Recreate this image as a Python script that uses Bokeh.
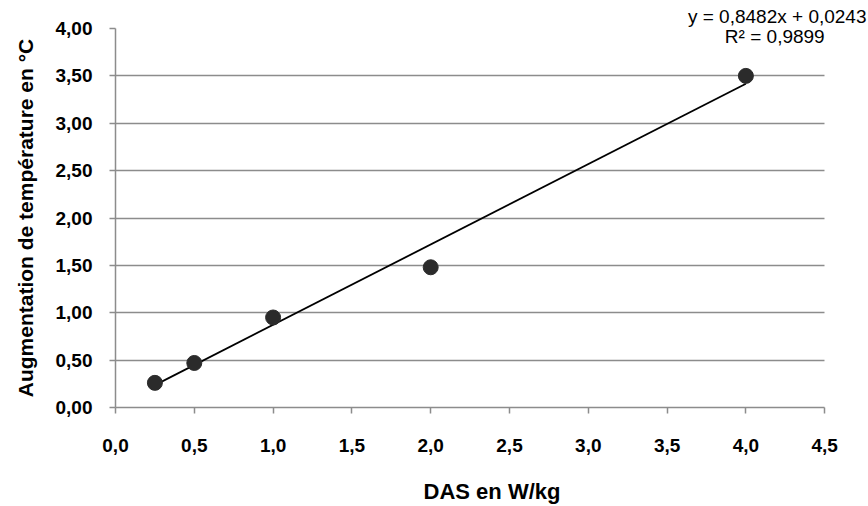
from bokeh.plotting import figure
from bokeh.models import FixedTicker, Range1d, Label, ColumnDataSource
from bokeh.embed import file_html
from bokeh.resources import INLINE

das = [0.25, 0.5, 1.0, 2.0, 4.0]
temp = [0.26, 0.47, 0.95, 1.48, 3.50]
slope = 0.8482
intercept = 0.0243
r2 = 0.9899
y_ticks = [0, 0.5, 1.0, 1.5, 2.0, 2.5, 3.0, 3.5, 4.0]
x_ticks = [0, 0.5, 1.0, 1.5, 2.0, 2.5, 3.0, 3.5, 4.0, 4.5]

FONT = "Liberation Sans"
GRAY = "#8c8c8c"

eq = f"y = {slope:.4f}x + {intercept:.4f}".replace(".", ",")
r2t = f"R² = {r2:.4f}".replace(".", ",")

p = figure(width=868, height=506, output_backend="svg", toolbar_location=None,
           x_range=Range1d(0, 4.778), y_range=Range1d(0, 4.0),
           min_border_left=115, min_border_right=0, min_border_top=28, min_border_bottom=96)
p.outline_line_color = None
p.background_fill_color = "white"
p.border_fill_color = "white"

p.title.text = eq
p.title.align = "right"
p.title.offset = 2
p.title.standoff = 3
p.title.text_font = FONT
p.title.text_font_style = "normal"
p.title.text_font_size = "19px"
p.title.text_color = "black"

p.xgrid.grid_line_color = None
p.ygrid.grid_line_color = GRAY
p.ygrid.grid_line_width = 1.5
p.ygrid.ticker = FixedTicker(ticks=y_ticks)
p.ygrid.cross_bounds = (0, 4.5)

p.yaxis.ticker = FixedTicker(ticks=y_ticks)
p.xaxis.ticker = FixedTicker(ticks=x_ticks)
p.yaxis.bounds = (0, 4.0)
p.xaxis.bounds = (0, 4.5)
p.yaxis.major_label_overrides = {t: f"{t:.2f}".replace(".", ",") for t in y_ticks}
p.xaxis.major_label_overrides = {t: f"{t:.1f}".replace(".", ",") for t in x_ticks}

for ax in (p.xaxis[0], p.yaxis[0]):
    ax.axis_line_color = GRAY
    ax.axis_line_width = 1.5
    ax.major_tick_line_color = GRAY
    ax.major_tick_line_width = 1.5
    ax.major_tick_out = 6
    ax.major_tick_in = 0
    ax.minor_tick_line_color = None
    ax.major_label_text_font = FONT
    ax.major_label_text_font_style = "bold"
    ax.major_label_text_font_size = "19px"
    ax.major_label_text_color = "black"
    ax.axis_label_text_font = FONT
    ax.axis_label_text_font_style = "bold"
    ax.axis_label_text_color = "black"

p.xaxis.axis_label = "DAS en W/kg"
p.yaxis.axis_label = "Augmentation de température en °C"
p.xaxis.axis_label_text_font_size = "22px"
p.yaxis.axis_label_text_font_size = "21px"
p.xaxis.major_label_standoff = 25
p.xaxis.axis_label_standoff = 24
p.yaxis.major_label_standoff = 17
p.yaxis.axis_label_standoff = 16

# trendline
xs = [min(das), max(das)]
ys = [slope * x + intercept for x in xs]
p.line(xs, ys, line_color="black", line_width=1.8)

src = ColumnDataSource(dict(x=das, y=temp))
p.scatter("x", "y", source=src, size=15, fill_color="#2b2b2b", line_color="#2b2b2b")

p.add_layout(Label(x=4.5, y=3.916, text=r2t, text_align="right", text_baseline="middle",
                   text_font=FONT, text_font_size="19px", text_color="black"))

open("out.html", "w").write(file_html(p, INLINE))
